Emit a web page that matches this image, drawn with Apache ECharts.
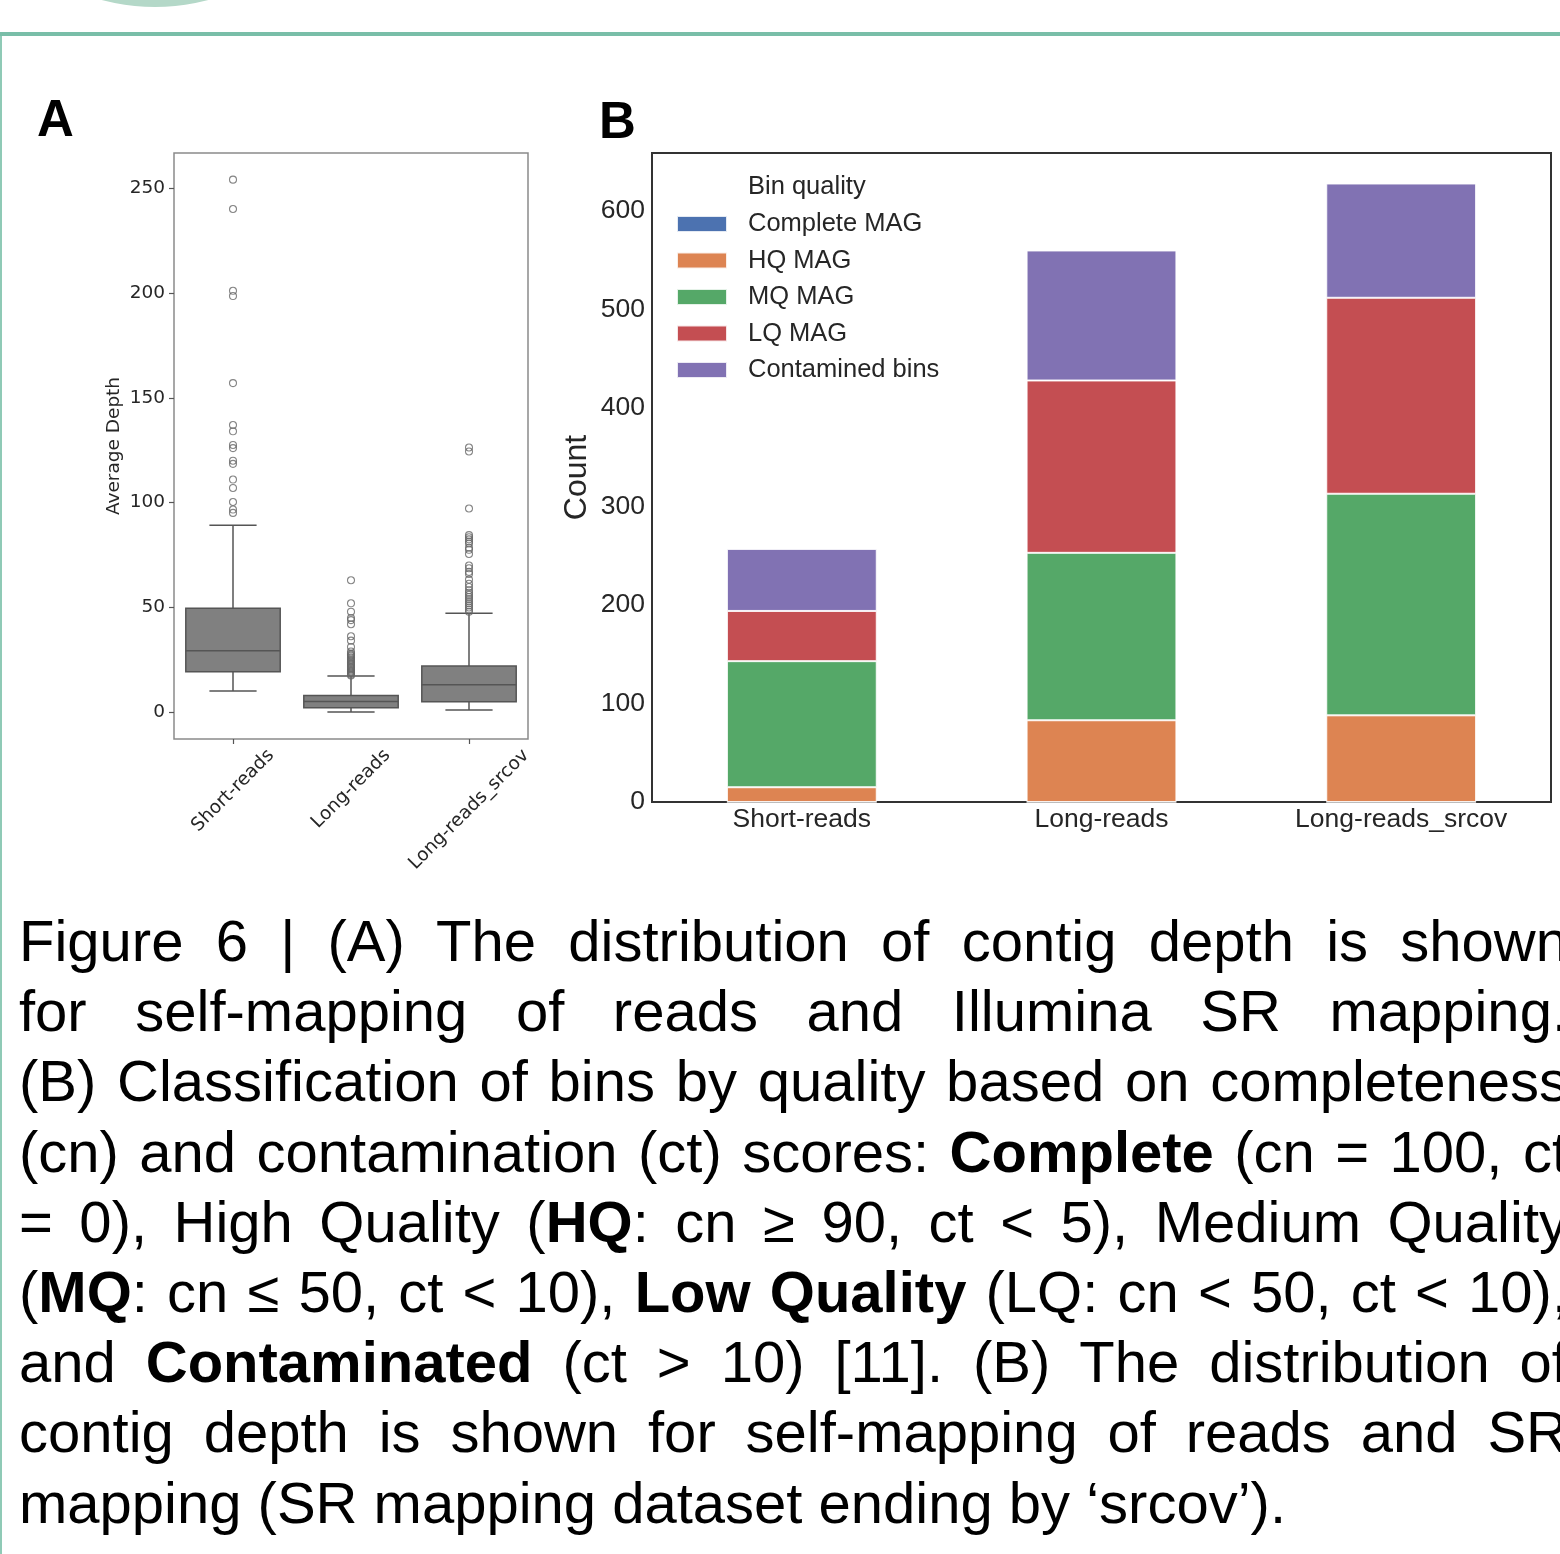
<!DOCTYPE html>
<html><head><meta charset="utf-8">
<script src="https://cdn.jsdelivr.net/npm/echarts@6/dist/echarts.min.js"></script>
<style>
html,body{margin:0;padding:0;background:#fff;}
body{width:1560px;height:1554px;overflow:hidden;position:relative;}
#chart{position:absolute;left:0;top:0;width:1560px;height:1554px;}
#caption{position:absolute;left:19px;top:906px;width:1549px;font-family:"Liberation Sans Narrow","Arial Narrow","Liberation Sans",sans-serif;font-size:58px;line-height:70.2px;color:#000;}
#caption .l{text-align:justify;text-align-last:justify;height:70.2px;white-space:nowrap;}
#caption .l.last{text-align-last:left;}
#caption b{font-weight:bold;}
</style></head>
<body>
<div id="chart"></div>
<div id="caption">
<div class="l">Figure 6 | (A) The distribution of contig depth is shown</div>
<div class="l">for self-mapping of reads and Illumina SR mapping.</div>
<div class="l">(B) Classification of bins by quality based on completeness</div>
<div class="l">(cn) and contamination (ct) scores: <b>Complete</b> (cn = 100, ct</div>
<div class="l">= 0), High Quality (<b>HQ</b>: cn ≥ 90, ct &lt; 5), Medium Quality</div>
<div class="l">(<b>MQ</b>: cn ≤ 50, ct &lt; 10), <b>Low Quality</b> (LQ: cn &lt; 50, ct &lt; 10),</div>
<div class="l">and <b>Contaminated</b> (ct &gt; 10) [11]. (B) The distribution of</div>
<div class="l">contig depth is shown for self-mapping of reads and SR</div>
<div class="l last">mapping (SR mapping dataset ending by ‘srcov’).</div>
</div>
<script>
// ---- Panel A data ----
const boxCategories = ['Short-reads', 'Long-reads', 'Long-reads_srcov'];
const boxMin = [10.2, 0.2, 1.1];
const boxQ1 = [19.4, 2.2, 5.1];
const boxMedian = [29.4, 5.2, 13.2];
const boxQ3 = [49.6, 8.1, 22.1];
const boxMax = [89.2, 17.3, 47.2];
const outliersShort = [254, 240, 201, 198.5, 157, 137, 134, 127.5, 126, 120, 118.5, 111, 107, 100.3, 96.7, 95.1];
const outliersLong = [63, 52, 48, 45, 44, 42, 36.3, 34.2, 31.2, 29, 28, 27.5, 27, 26.3, 25.7, 25, 24.3, 23.6, 23, 22.4, 21.8, 21.2, 20.6, 20, 19.5, 19, 18.5, 18, 17.6];
const outliersSrcov = [126.3, 124.4, 97.2, 84.5, 83.5, 82.5, 81.5, 80.5, 78.5, 77.5, 75.5, 70, 68.7, 67, 66, 63.3, 61.3, 59.8, 58.2, 57, 56, 55, 54, 53, 52, 51, 50, 49, 48];
const depthTicks = [0, 50, 100, 150, 200, 250];

// ---- Panel B data ----
const barCategories = ['Short-reads', 'Long-reads', 'Long-reads_srcov'];
const qualityNames = ['Complete MAG', 'HQ MAG', 'MQ MAG', 'LQ MAG', 'Contamined bins'];
const completeMAG = [0, 0, 0];
const hqMAG = [15, 83, 88];
const mqMAG = [128, 170, 225];
const lqMAG = [51, 175, 199];
const contaminedBins = [63, 132, 116];
const countTicks = [0, 100, 200, 300, 400, 500, 600];

const FA = 'DejaVu Sans';
const FB = 'Liberation Sans';
const SA = 18.5;   // panel A font size
const SB = 26.5;   // panel B tick font size
const SL = 25.5;   // panel B legend font size
const qualityColors = ['#4C72B0', '#DD8452', '#55A868', '#C44E52', '#8172B3'];
const qualitySeries = [completeMAG, hqMAG, mqMAG, lqMAG, contaminedBins];

const boxData = boxCategories.map((c, i) => [i, boxMin[i], boxQ1[i], boxMedian[i], boxQ3[i], boxMax[i]]);
const outlierData = [];
[outliersShort, outliersLong, outliersSrcov].forEach((arr, i) => arr.forEach(v => outlierData.push([i, v])));

const chart = echarts.init(document.getElementById('chart'));

const decor = [
  {type: 'circle', id: 'arc', silent: true, shape: {cx: 155, cy: -200, r: 207}, style: {fill: '#b4d8c8'}},
  {type: 'rect', id: 'topline', silent: true, shape: {x: 0, y: 32, width: 1560, height: 4}, style: {fill: '#79bea8'}},
  {type: 'rect', id: 'leftline', silent: true, shape: {x: 0, y: 36, width: 2, height: 1518}, style: {fill: '#8fcab6'}},
  {type: 'text', id: 'lblA', x: 37, y: 122, style: {text: 'A', fontFamily: FB, fontWeight: 'bold', fontSize: 51, fill: '#000', verticalAlign: 'middle'}},
  {type: 'text', id: 'lblB', x: 599, y: 124, style: {text: 'B', fontFamily: FB, fontWeight: 'bold', fontSize: 51, fill: '#000', verticalAlign: 'middle'}},
  {type: 'text', id: 'legTitle', x: 748, y: 187, style: {text: 'Bin quality', fontFamily: FB, fontSize: SL, fill: '#262626', verticalAlign: 'middle'}}
];

const option = {
  animation: false,
  backgroundColor: '#fff',
  grid: [
    {left: 174, top: 153, width: 354, height: 586, show: true, borderColor: '#8a8a8a', borderWidth: 1.5, backgroundColor: 'transparent'},
    {left: 652, top: 153, width: 899, height: 649, show: true, borderColor: '#333', borderWidth: 2, backgroundColor: 'transparent'}
  ],
  xAxis: [
    {type: 'category', gridIndex: 0, data: boxCategories, boundaryGap: true,
     axisLine: {show: false, onZero: false}, axisTick: {show: true, alignWithLabel: true, length: 5, lineStyle: {color: '#555', width: 1.2}},
     axisLabel: {show: false}, splitLine: {show: false}},
    {type: 'category', gridIndex: 1, data: barCategories, boundaryGap: true,
     axisLine: {show: false, onZero: false}, axisTick: {show: false},
     axisLabel: {fontFamily: FB, fontSize: SB, color: '#262626', margin: 4}, splitLine: {show: false}}
  ],
  yAxis: [
    {type: 'value', gridIndex: 0, min: -12.7, max: 266.7,
     axisLine: {show: false}, splitLine: {show: false},
     axisTick: {show: true, length: 5, customValues: depthTicks, lineStyle: {color: '#555', width: 1.2}},
     axisLabel: {customValues: depthTicks, fontFamily: FA, fontSize: SA, color: '#262626', margin: 9},
     name: 'Average Depth', nameLocation: 'middle', nameGap: 50, nameMoveOverlap: false,
     nameTextStyle: {fontFamily: FA, fontSize: SA, color: '#262626'}},
    {type: 'value', gridIndex: 1, min: 0, max: 659,
     axisLine: {show: false}, splitLine: {show: false}, axisTick: {show: false},
     axisLabel: {customValues: countTicks, fontFamily: FB, fontSize: SB, color: '#262626', margin: 7},
     name: 'Count', nameLocation: 'middle', nameGap: 59, nameMoveOverlap: false,
     nameTextStyle: {fontFamily: FB, fontSize: 32, color: '#262626'}}
  ],
  legend: {
    data: qualityNames, orient: 'vertical', left: 671, top: 206,
    itemWidth: 50, itemHeight: 16, itemGap: 10.5, icon: 'rect',
    textStyle: {fontFamily: FB, fontSize: SL, color: '#262626', lineHeight: 26, padding: [0, 0, 0, 16]},
    selectedMode: false
  },
  series: [
    {type: 'custom', name: 'depth-box', xAxisIndex: 0, yAxisIndex: 0, data: boxData,
     encode: {x: 0, y: [1, 2, 3, 4, 5]},
     renderItem: function (params, api) {
       const i = api.value(0);
       const pLo = api.coord([i, api.value(1)]);
       const pQ1 = api.coord([i, api.value(2)]);
       const pMed = api.coord([i, api.value(3)]);
       const pQ3 = api.coord([i, api.value(4)]);
       const pHi = api.coord([i, api.value(5)]);
       const band = api.size([1, 0])[0];
       const bw = band * 0.8, cw = bw * 0.5;
       const cx = pLo[0];
       const ls = {stroke: '#555', lineWidth: 1.5, fill: null};
       return {type: 'group', children: [
         {type: 'line', shape: {x1: cx, y1: pQ1[1], x2: cx, y2: pLo[1]}, style: ls},
         {type: 'line', shape: {x1: cx, y1: pQ3[1], x2: cx, y2: pHi[1]}, style: ls},
         {type: 'line', shape: {x1: cx - cw / 2, y1: pLo[1], x2: cx + cw / 2, y2: pLo[1]}, style: ls},
         {type: 'line', shape: {x1: cx - cw / 2, y1: pHi[1], x2: cx + cw / 2, y2: pHi[1]}, style: ls},
         {type: 'rect', shape: {x: cx - bw / 2, y: pQ3[1], width: bw, height: pQ1[1] - pQ3[1]}, style: {fill: '#808080', stroke: '#555', lineWidth: 1.5}},
         {type: 'line', shape: {x1: cx - bw / 2, y1: pMed[1], x2: cx + bw / 2, y2: pMed[1]}, style: ls}
       ]};
     }},
    {type: 'scatter', name: 'outliers', xAxisIndex: 0, yAxisIndex: 0, data: outlierData,
     symbol: 'circle', symbolSize: 7,
     itemStyle: {color: 'rgba(0,0,0,0)', borderColor: '#666', borderWidth: 1.1}}
  ].concat(qualityNames.map((n, k) => ({
    type: 'bar', name: n, xAxisIndex: 1, yAxisIndex: 1, stack: 'q', barWidth: '50%',
    data: qualitySeries[k],
    itemStyle: {color: qualityColors[k], borderColor: 'rgba(255,255,255,0.85)', borderWidth: 1}
  }))),
  graphic: decor
};
chart.setOption(option);

// rotated category labels for panel A, centered under their ticks (matplotlib style)
const ctx = document.createElement('canvas').getContext('2d');
ctx.font = SA + 'px "DejaVu Sans"';
const axisBottom = chart.convertToPixel({gridIndex: 0}, [0, -12.7])[1];
const rotLabels = boxCategories.map((c, i) => {
  const px = chart.convertToPixel({gridIndex: 0}, [i, 0])[0];
  const w = ctx.measureText(c).width;
  const h = SA * 1.17;
  const half = (w + h) * Math.SQRT1_2 / 2;
  return {type: 'text', id: 'xl' + i, x: px, y: axisBottom + 6 + half, rotation: Math.PI / 4,
    style: {text: c, fontFamily: FA, fontSize: SA, fill: '#262626', align: 'center', verticalAlign: 'middle'}};
});
chart.setOption({graphic: decor.concat(rotLabels)});
</script>
</body></html>
